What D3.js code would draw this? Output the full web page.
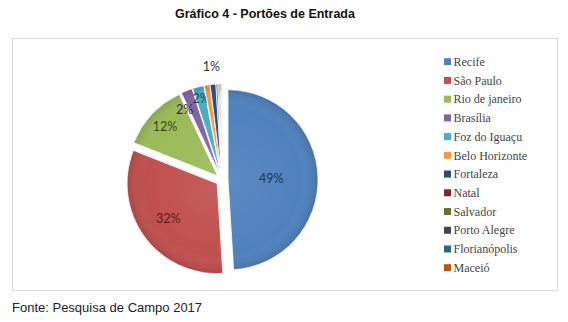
<!DOCTYPE html>
<html>
<head>
<meta charset="utf-8">
<script src="https://cdn.jsdelivr.net/npm/d3@7"></script>
<style>
  html, body { margin: 0; padding: 0; background: #fff; }
  svg { display: block; }
</style>
</head>
<body>
<svg id="chart" width="568" height="322"></svg>
<script>
// Entry gateways (percent of respondents)
const cities = ["Recife", "São Paulo", "Rio de janeiro", "Brasília", "Foz do Iguaçu",
  "Belo Horizonte", "Fortaleza", "Natal", "Salvador", "Porto Alegre", "Florianópolis", "Maceió"];
const shares = [49, 32, 12, 2, 2, 1, 1, 0.3, 0.2, 0.2, 0.2, 0.1];
const shownLabels = ["49%", "32%", "12%", "2%", "2%", "", "1%", "", "", "", "", ""];
const palette = ["#4F81BD", "#C0504D", "#9BBB59", "#8064A2", "#4BACC6", "#F79646",
  "#2C4D75", "#772C2A", "#5F7530", "#45434c", "#276A7C", "#B65708"];
const labelColors = ["#1d3557", "#5a1e1c", "#3b4a1e", "#2e2a52", "#1f3f5e", "#6b3a12",
  "#333", "#333", "#333", "#333", "#333", "#333"];

const svg = d3.select("#chart");

// Title
svg.append("text")
  .attr("x", 265).attr("y", 18)
  .attr("text-anchor", "middle")
  .attr("font-family", "Liberation Sans, Arial, sans-serif")
  .attr("font-weight", "bold")
  .attr("font-size", 12.5)
  .attr("fill", "#111")
  .text("Gráfico 4 - Portões de Entrada");

// Chart frame
svg.append("rect")
  .attr("x", 12.5).attr("y", 38.5)
  .attr("width", 545).attr("height", 252)
  .attr("fill", "#fff")
  .attr("stroke", "#d9d9d9");

// Source note
svg.append("text")
  .attr("x", 12).attr("y", 312)
  .attr("font-family", "Liberation Sans, Arial, sans-serif")
  .attr("font-size", 13)
  .attr("fill", "#222")
  .text("Fonte: Pesquisa de Campo 2017");

// Soft shading on every slice
const defs = svg.append("defs");
const grad = defs.append("radialGradient")
  .attr("id", "shade")
  .attr("gradientUnits", "userSpaceOnUse")
  .attr("cx", 0).attr("cy", 0).attr("r", 90);
grad.append("stop").attr("offset", "0%").attr("stop-color", "#fff").attr("stop-opacity", 0.08);
grad.append("stop").attr("offset", "80%").attr("stop-color", "#fff").attr("stop-opacity", 0.0);
grad.append("stop").attr("offset", "100%").attr("stop-color", "#000").attr("stop-opacity", 0.12);

const cx = 222, cy = 180, radius = 90, explode = 6;

const pie = d3.pie().sort(null).value(d => d.value);
const arc = d3.arc().innerRadius(0).outerRadius(radius);

const data = cities.map((c, i) => ({ name: c, value: shares[i], label: shownLabels[i], color: palette[i], lc: labelColors[i] }));
const arcs = pie(data);

const pieG = svg.append("g").attr("transform", `translate(${cx},${cy})`);

const slices = pieG.selectAll("g.slice")
  .data(arcs)
  .join("g")
  .attr("class", "slice")
  .attr("transform", d => {
    const a = (d.startAngle + d.endAngle) / 2;
    return `translate(${explode * Math.sin(a)},${-explode * Math.cos(a)})`;
  });

slices.append("path")
  .attr("d", arc)
  .attr("fill", d => d.data.color)
  .attr("stroke", "#fff")
  .attr("stroke-width", 0.8);

slices.append("path")
  .attr("d", arc)
  .attr("fill", "url(#shade)");

// Value labels: placed further out for smaller slices; neighbouring
// small slices alternate between two rings so their labels do not collide
function labelRadius(v, i) {
  if (v >= 40) return radius * 0.48;
  if (v >= 20) return radius * 0.67;
  if (v >= 5) return radius * 0.8;
  if (v >= 1.5) return radius * (i % 2 ? 0.82 : 0.87);
  return radius * 1.2;
}
function labelAngle(d, i) {
  const a = (d.startAngle + d.endAngle) / 2;
  // inner-ring small labels lean slightly counter-clockwise
  return (d.data.value < 5 && d.data.value >= 1.5 && i % 2) ? a - 0.12 : a;
}

slices.filter(d => d.data.label)
  .append("text")
  .attr("transform", d => {
    const i = d.index;
    const a = labelAngle(d, i);
    const r = labelRadius(d.data.value, i);
    return `translate(${r * Math.sin(a)},${-r * Math.cos(a)})`;
  })
  .attr("text-anchor", "middle")
  .attr("dy", "0.35em")
  .attr("font-family", "Lato, Open Sans, sans-serif")
  .attr("font-size", 12.5)
  .attr("fill", d => d.data.lc)
  .text(d => d.data.label);

// Legend
const legY = d3.scalePoint().domain(cities).range([61.7, 267.7]);
const leg = svg.append("g");
const items = leg.selectAll("g")
  .data(data)
  .join("g")
  .attr("transform", d => `translate(444,${legY(d.name)})`);
items.append("rect")
  .attr("x", 0).attr("y", -3.5)
  .attr("width", 7).attr("height", 7)
  .attr("fill", d => d.color);
items.append("text")
  .attr("x", 9.5).attr("dy", "0.35em")
  .attr("font-family", "Liberation Serif, DejaVu Serif, serif")
  .attr("font-size", 12)
  .attr("fill", "#444")
  .text(d => d.name);
</script>
</body>
</html>
